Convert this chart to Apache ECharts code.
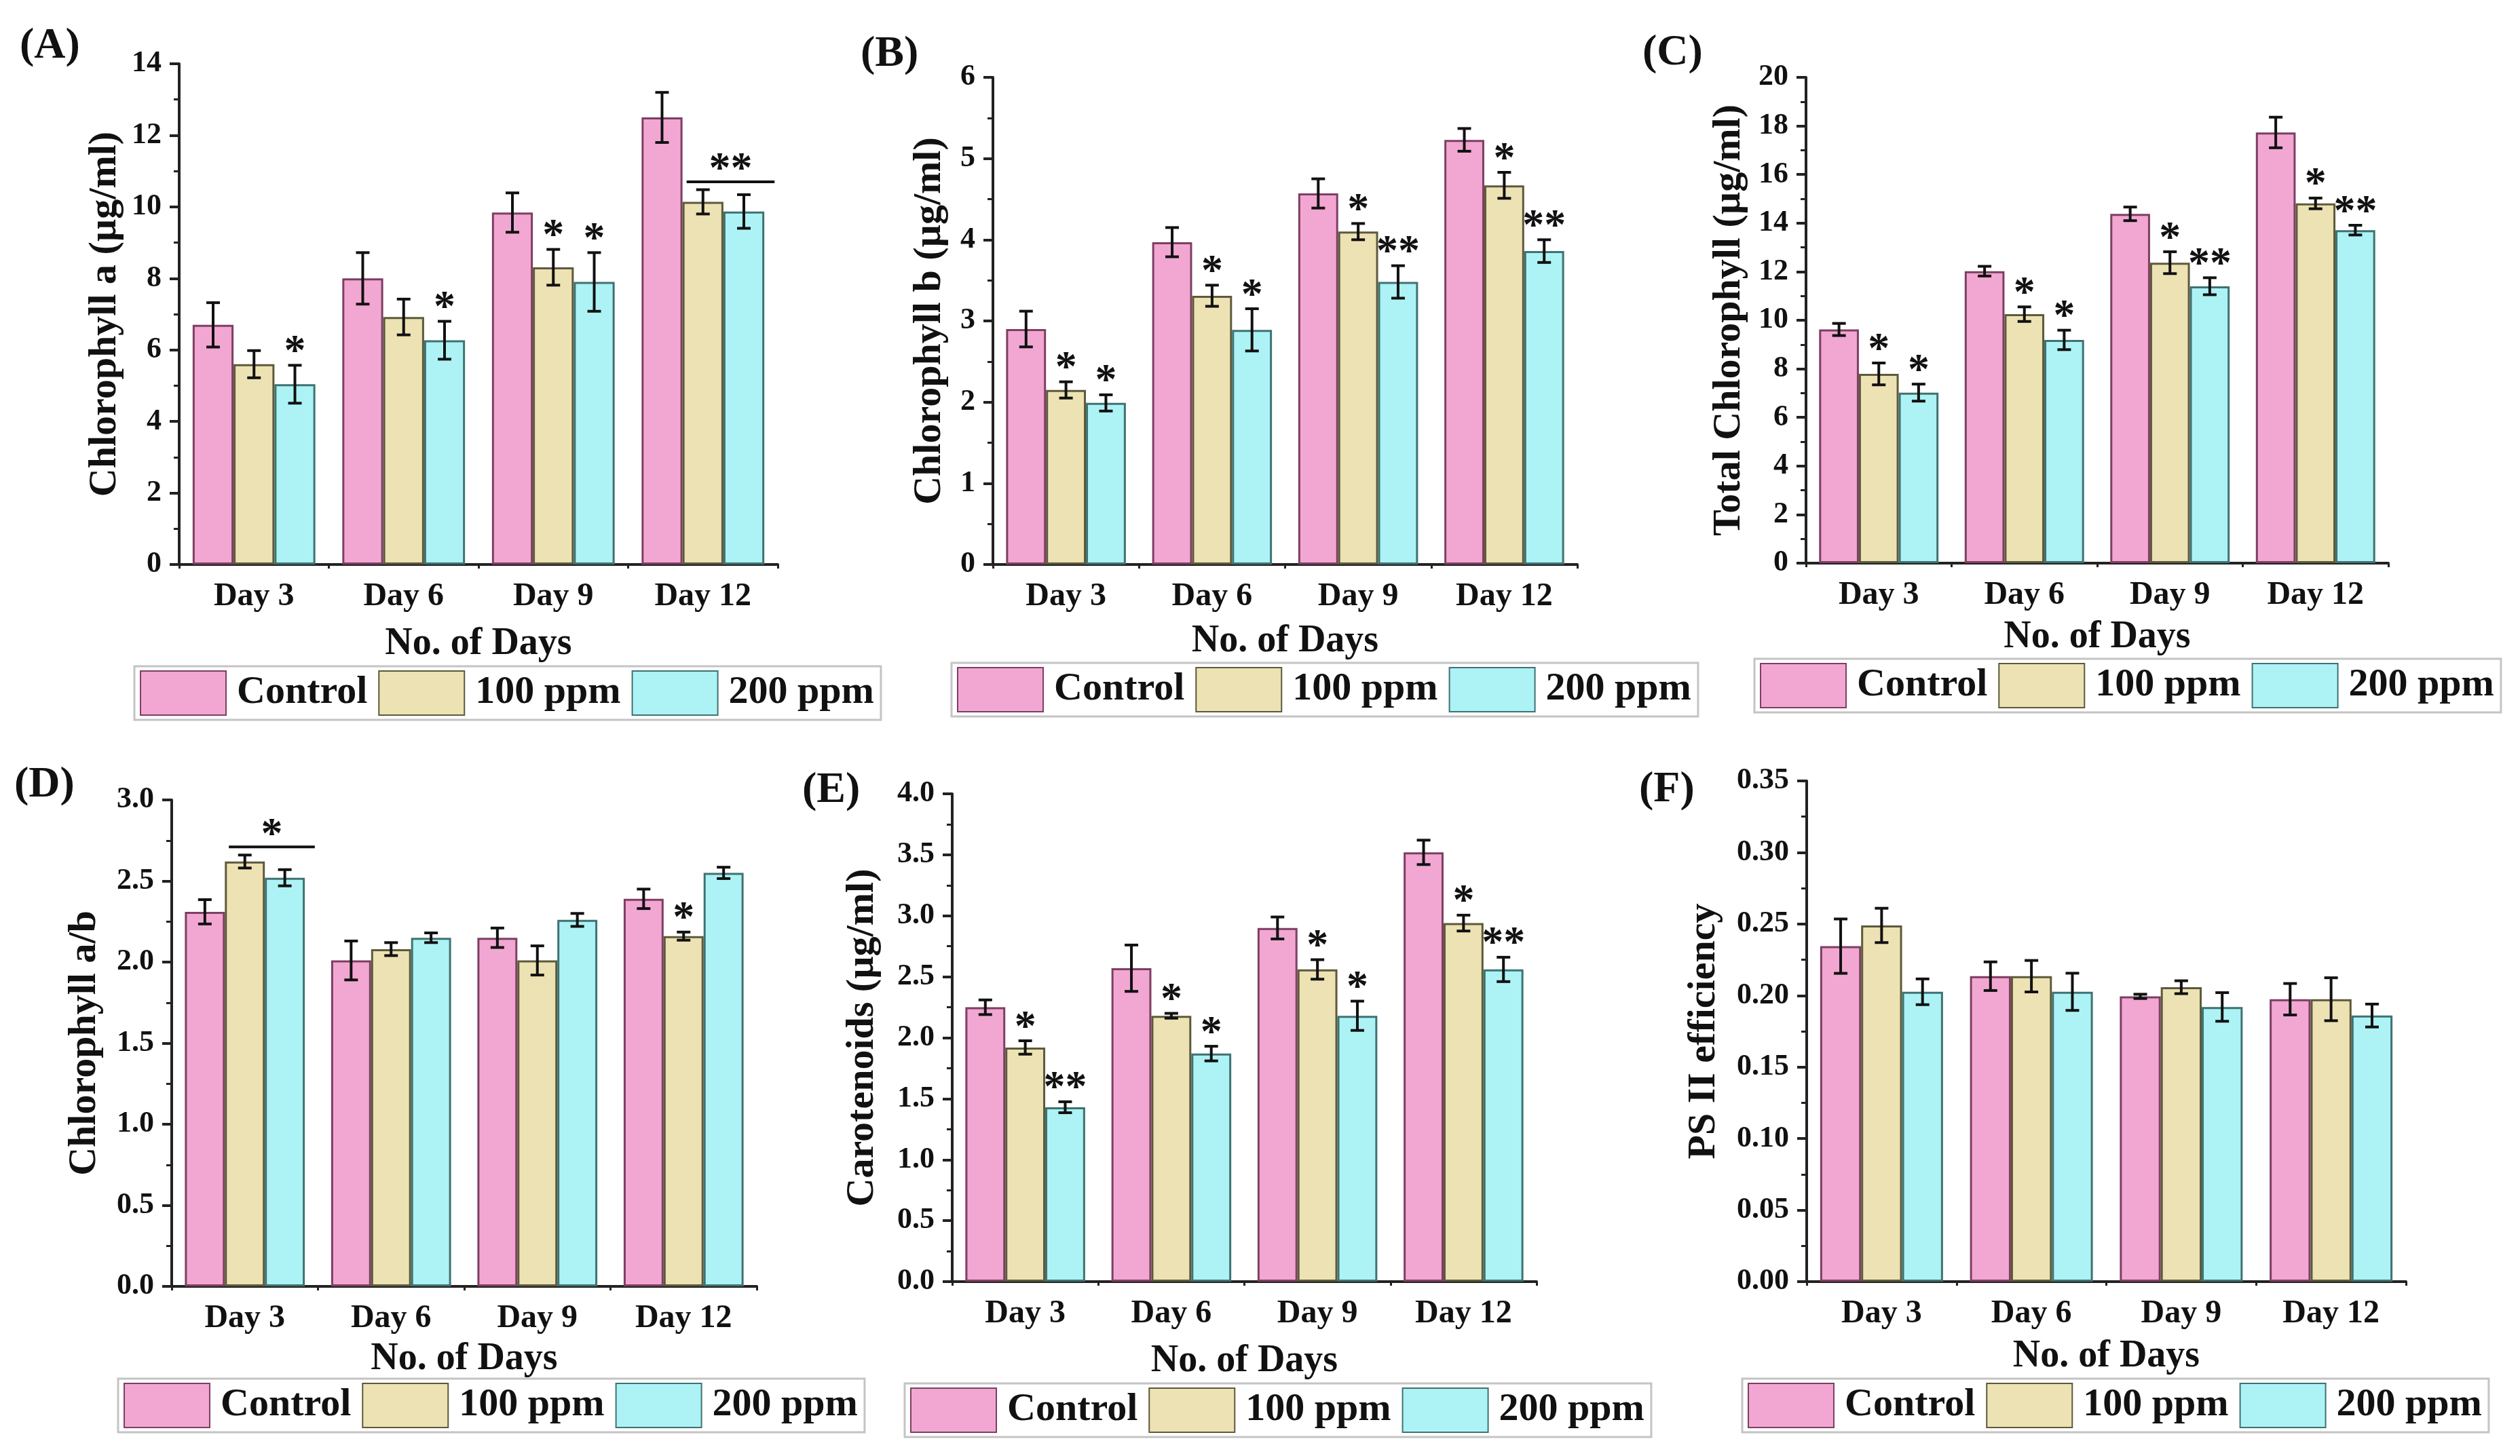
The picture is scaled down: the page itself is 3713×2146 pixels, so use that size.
<!DOCTYPE html>
<html>
<head>
<meta charset="utf-8">
<title>Pigment content and PS II efficiency</title>
<script src="https://cdn.jsdelivr.net/npm/echarts@6/dist/echarts.min.js"></script>
<style>
  html, body { margin: 0; padding: 0; background: #fff; }
  #chart { width: 3713px; height: 2146px; }
</style>
</head>
<body>
<div id="chart"></div>
<script>
// ---- data (rows: Control, 100 ppm, 200 ppm; columns: days) ----
const days = ['Day 3', 'Day 6', 'Day 9', 'Day 12'];
const groups = ['Control', '100 ppm', '200 ppm'];

// (A) chlorophyll a
const chlA_mean = [[6.7, 8.0, 9.84, 12.5], [5.6, 6.92, 8.31, 10.14], [5.04, 6.27, 7.9, 9.87]];
const chlA_err = [[0.62, 0.72, 0.55, 0.7], [0.38, 0.5, 0.5, 0.34], [0.53, 0.53, 0.82, 0.47]];
const chlA_star = [['', '', '', ''], ['', '', '*', ''], ['*', '*', '*', '']];
const chlA_bracket = [[3, 1, 2, 10.7, '**']];

// (B) chlorophyll b
const chlB_mean = [[2.9, 3.97, 4.57, 5.23], [2.15, 3.31, 4.1, 4.67], [1.99, 2.89, 3.48, 3.86]];
const chlB_err = [[0.22, 0.18, 0.18, 0.14], [0.1, 0.13, 0.1, 0.16], [0.1, 0.26, 0.2, 0.14]];
const chlB_star = [['', '', '', ''], ['*', '*', '*', '*'], ['*', '*', '**', '**']];
const chlB_bracket = [];

// (C) total chlorophyll
const chlT_mean = [[9.62, 12.02, 14.38, 17.73], [7.79, 10.25, 12.37, 14.81], [7.02, 9.19, 11.4, 13.71]];
const chlT_err = [[0.25, 0.2, 0.28, 0.63], [0.45, 0.3, 0.45, 0.22], [0.35, 0.4, 0.35, 0.2]];
const chlT_star = [['', '', '', ''], ['*', '*', '*', '*'], ['*', '*', '**', '**']];
const chlT_bracket = [];

// (D) chlorophyll a/b
const ratio_mean = [[2.31, 2.01, 2.15, 2.39], [2.62, 2.08, 2.01, 2.16], [2.52, 2.15, 2.26, 2.55]];
const ratio_err = [[0.075, 0.12, 0.06, 0.06], [0.04, 0.04, 0.09, 0.025], [0.05, 0.03, 0.04, 0.035]];
const ratio_star = [['', '', '', ''], ['', '', '', '*'], ['', '', '', '']];
const ratio_bracket = [[0, 1, 2, 2.71, '*']];

// (E) carotenoids
const car_mean = [[2.25, 2.57, 2.9, 3.52], [1.92, 2.18, 2.56, 2.94], [1.43, 1.87, 2.18, 2.56]];
const car_err = [[0.06, 0.19, 0.09, 0.1], [0.055, 0.02, 0.08, 0.065], [0.045, 0.06, 0.12, 0.1]];
const car_star = [['', '', '', ''], ['*', '*', '*', '*'], ['**', '*', '*', '**']];
const car_bracket = [];

// (F) PS II efficiency
const ps2_mean = [[0.2345, 0.2135, 0.1994, 0.1974], [0.249, 0.2135, 0.2058, 0.1974], [0.2026, 0.2026, 0.192, 0.186]];
const ps2_err = [[0.019, 0.01, 0.0015, 0.011], [0.012, 0.011, 0.0045, 0.015], [0.009, 0.013, 0.01, 0.008]];
const ps2_star = [['', '', '', ''], ['', '', '', ''], ['', '', '', '']];
const ps2_bracket = [];

// axis names and y ticks per panel
const panelLetters = ['(A)', '(B)', '(C)', '(D)', '(E)', '(F)'];
const yNames = ['Chlorophyll a (\u00b5g/ml)', 'Chlorophyll b (\u00b5g/ml)', 'Total Chlorophyll (\u00b5g/ml)',
  'Chlorophyll a/b', 'Carotenoids (\u00b5g/ml)', 'PS II efficiency'];
const yMax = [14, 6, 20, 3, 4, 0.35];
const yStep = [2, 1, 2, 0.5, 0.5, 0.05];
const yDecimals = [0, 0, 0, 1, 1, 2];

const means = [chlA_mean, chlB_mean, chlT_mean, ratio_mean, car_mean, ps2_mean];
const errs = [chlA_err, chlB_err, chlT_err, ratio_err, car_err, ps2_err];
const stars = [chlA_star, chlB_star, chlT_star, ratio_star, car_star, ps2_star];
const brackets = [chlA_bracket, chlB_bracket, chlT_bracket, ratio_bracket, car_bracket, ps2_bracket];

// ---- layout (pixels) ----
const grids = [
  { left: 264, top: 94, width: 882, height: 738 },
  { left: 1463, top: 114, width: 861, height: 718 },
  { left: 2661, top: 114, width: 858, height: 716 },
  { left: 253, top: 1179, width: 862, height: 717 },
  { left: 1403, top: 1170, width: 861, height: 719 },
  { left: 2662, top: 1151, width: 883, height: 738 }
];
const letterPos = [[29, 36], [1268, 48], [2420, 46], [21, 1125], [1182, 1133], [2415, 1132]];
const legendPos = [[198, 982], [1402, 977], [2585, 971], [174, 2032], [1333, 2039], [2567, 2032]];
const yNameGap = [80, 64, 84, 99, 103, 122];
const xNameGap = [90, 86, 82, 80, 90, 83];

const FONT = '"Liberation Serif", "Times New Roman", serif';
const fills = ['#F2A7D3', '#EDE2B3', '#ADF3F5'];
const borders = ['#7d3f62', '#5c5a3c', '#3f7272'];
const CAT_GAP = 0.18;

const chart = echarts.init(document.getElementById('chart'), null, { renderer: 'canvas' });

function barOffset(api, cat, s) {
  const band = api.size([1, 0])[0];
  const barW = band * (1 - CAT_GAP) / 3;
  return { cx: api.coord([cat, 0])[0] + (s - 1) * barW, barW: barW };
}

function errorSeries(p) {
  const items = [];
  for (let s = 0; s < 3; s++) {
    for (let c = 0; c < days.length; c++) {
      items.push({ cat: c, s: s, mean: means[p][s][c], err: errs[p][s][c], star: stars[p][s][c] });
    }
  }
  return {
    type: 'custom',
    xAxisIndex: p,
    yAxisIndex: p,
    z: 5,
    silent: true,
    clip: false,
    data: items.map(it => [it.cat, it.mean + it.err]),
    renderItem: function (params, api) {
      const it = items[params.dataIndex];
      const pos = barOffset(api, it.cat, it.s);
      const yHi = api.coord([it.cat, it.mean + it.err])[1];
      const yLo = api.coord([it.cat, it.mean - it.err])[1];
      const cap = 10;
      const ls = { stroke: '#111', lineWidth: 4 };
      const children = [
        { type: 'line', shape: { x1: pos.cx, y1: yHi, x2: pos.cx, y2: yLo }, style: ls },
        { type: 'line', shape: { x1: pos.cx - cap, y1: yHi, x2: pos.cx + cap, y2: yHi }, style: ls },
        { type: 'line', shape: { x1: pos.cx - cap, y1: yLo, x2: pos.cx + cap, y2: yLo }, style: ls }
      ];
      if (it.star) {
        children.push({
          type: 'text',
          style: {
            text: it.star, x: pos.cx, y: yHi + 14, align: 'center', verticalAlign: 'bottom',
            fill: '#111', font: 'bold 64px ' + FONT
          }
        });
      }
      return { type: 'group', children: children };
    }
  };
}

function bracketSeries(p) {
  const list = brackets[p];
  return {
    type: 'custom',
    xAxisIndex: p,
    yAxisIndex: p,
    z: 5,
    silent: true,
    clip: false,
    data: list.map(b => [b[0], b[3]]),
    renderItem: function (params, api) {
      const b = list[params.dataIndex];
      const a = barOffset(api, b[0], b[1]);
      const e = barOffset(api, b[0], b[2]);
      const x1 = a.cx - a.barW / 2 + 0.1 * a.barW;
      const x2 = e.cx + e.barW / 2 + 0.25 * e.barW;
      const y = api.coord([b[0], b[3]])[1];
      return {
        type: 'group',
        children: [
          { type: 'line', shape: { x1: x1, y1: y, x2: x2, y2: y }, style: { stroke: '#111', lineWidth: 4 } },
          {
            type: 'text',
            style: {
              text: b[4], x: (x1 + x2) / 2, y: y + 16, align: 'center', verticalAlign: 'bottom',
              fill: '#111', font: 'bold 64px ' + FONT
            }
          }
        ]
      };
    }
  };
}

const xAxes = [], yAxes = [], series = [], titles = [], legends = [], boundaryAxes = [];
for (let p = 0; p < 6; p++) {
  xAxes.push({
    type: 'category',
    gridIndex: p,
    data: days,
    name: 'No. of Days',
    nameLocation: 'middle',
    nameGap: xNameGap[p],
    nameTextStyle: { fontFamily: FONT, fontWeight: 'bold', fontSize: 56, color: '#111' },
    axisLine: { lineStyle: { color: '#222', width: 4 } },
    axisTick: { alignWithLabel: true, length: 12, lineStyle: { color: '#222', width: 4 } },
    axisLabel: { fontFamily: FONT, fontWeight: 'bold', fontSize: 48, color: '#111', margin: 24 },
    splitLine: { show: false }
  });
  // short ticks at the group boundaries: a second category axis moved down onto the bottom edge
  boundaryAxes.push({
    type: 'category',
    gridIndex: p,
    data: days,
    position: 'top',
    offset: -grids[p].height,
    axisLine: { show: false, onZero: false },
    axisTick: { show: true, inside: true, alignWithLabel: false, length: 6, lineStyle: { color: '#222', width: 3 } },
    axisLabel: { show: false },
    splitLine: { show: false }
  });
  yAxes.push({
    type: 'value',
    gridIndex: p,
    min: 0,
    max: yMax[p],
    interval: yStep[p],
    name: yNames[p],
    nameLocation: 'middle',
    nameGap: yNameGap[p],
    nameTextStyle: { fontFamily: FONT, fontWeight: 'bold', fontSize: 58, color: '#111' },
    axisLine: { show: true, lineStyle: { color: '#222', width: 4 } },
    axisTick: { show: true, length: 14, lineStyle: { color: '#222', width: 4 } },
    minorTick: { show: true, splitNumber: 2, length: 8, lineStyle: { color: '#222', width: 3 } },
    axisLabel: {
      fontFamily: FONT, fontWeight: 'bold', fontSize: 44, color: '#111', margin: 26,
      formatter: (v => v.toFixed(yDecimals[p]))
    },
    splitLine: { show: false }
  });
  for (let s = 0; s < 3; s++) {
    series.push({
      type: 'bar',
      name: groups[s],
      xAxisIndex: p,
      yAxisIndex: p,
      data: means[p][s],
      barGap: '0%',
      barCategoryGap: (CAT_GAP * 100) + '%',
      itemStyle: { color: fills[s], borderColor: borders[s], borderWidth: 3 },
      emphasis: { disabled: true }
    });
  }
  series.push(errorSeries(p));
  if (brackets[p].length) series.push(bracketSeries(p));
  titles.push({
    text: panelLetters[p],
    left: letterPos[p][0],
    top: letterPos[p][1],
    padding: 0,
    textStyle: { fontFamily: FONT, fontWeight: 'bold', fontSize: 64, color: '#111' }
  });
  legends.push({
    data: groups,
    left: legendPos[p][0],
    top: legendPos[p][1],
    orient: 'horizontal',
    icon: 'rect',
    itemWidth: 126,
    itemHeight: 65,
    itemGap: 16,
    padding: [6, 10, 6, 8],
    borderColor: '#c4c4c4',
    borderWidth: 3,
    selectedMode: false,
    textStyle: { fontFamily: FONT, fontWeight: 'bold', fontSize: 58, color: '#111', padding: [0, 0, 0, 11] }
  });
}

chart.setOption({
  backgroundColor: '#fff',
  animation: false,
  title: titles,
  legend: legends,
  grid: grids.map(g => Object.assign({ outerBoundsMode: 'none', containLabel: false }, g)),
  xAxis: xAxes.concat(boundaryAxes),
  yAxis: yAxes,
  series: series
});
</script>
</body>
</html>
